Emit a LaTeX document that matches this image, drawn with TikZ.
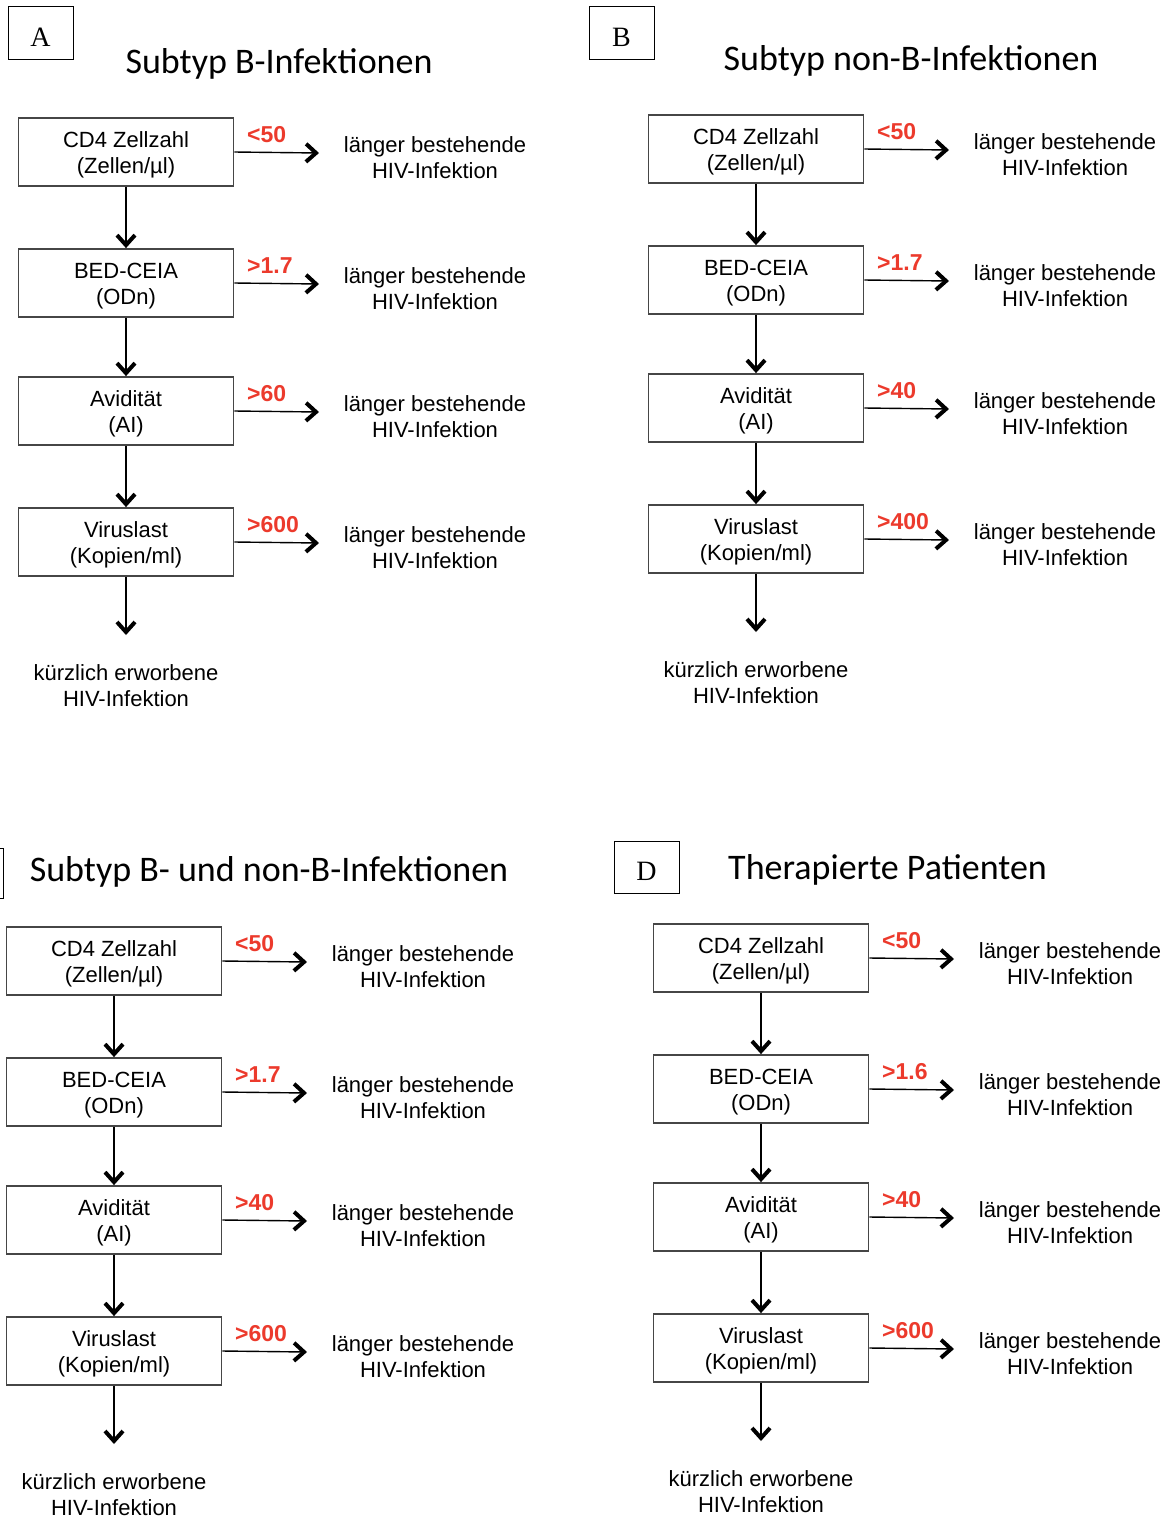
\documentclass[tikz,border=0pt]{standalone}
\usepackage{fontspec}
\setmainfont{Liberation Sans}
\newfontfamily\titlefont{Carlito}
\newfontfamily\letterfont{Liberation Serif}
\usetikzlibrary{arrows.meta}

\definecolor{cutred}{RGB}{236,58,44}
\definecolor{boxgray}{RGB}{70,70,70}

\tikzset{
  stepbox/.style={draw=boxgray,line width=1.8pt,minimum width=215pt,minimum height=68pt,
    align=center,inner sep=0pt,font=\fontsize{22}{26}\selectfont},
  outcome/.style={align=center,inner sep=0pt,font=\fontsize{22}{26}\selectfont},
  cutoff/.style={anchor=west,inner sep=0pt,text=cutred,font=\fontsize{23}{26}\selectfont\bfseries},
  flow/.style={line width=1.4pt,-{Straight Barb[length=10pt,width=18pt,line width=4pt]}},
  ptitle/.style={anchor=base,inner sep=0pt,font=\fontsize{36}{40}\selectfont\titlefont},
  letterbox/.style={draw,line width=1pt,minimum width=65pt,text height=27pt,text depth=0pt,
    font=\fontsize{28}{30}\selectfont\letterfont}
}

% #1 prefix, #2 left edge, #3 top edge, #4-#7 cut-off values
\newcommand\flowpanel[7]{%
  \node[stepbox] (#1b1) at (#2+108,#3+34) {\rule{0pt}{22pt}CD4 Zellzahl\\(Zellen/µl)};
  \node[stepbox] (#1b2) at (#2+108,#3+165) {\rule{0pt}{22pt}BED-CEIA\\(ODn)};
  \node[stepbox] (#1b3) at (#2+108,#3+293) {\rule{0pt}{22pt}Avidität\\(AI)};
  \node[stepbox] (#1b4) at (#2+108,#3+424) {\rule{0pt}{22pt}Viruslast\\(Kopien/ml)};
  \foreach \k/\y/\thr in {1/0/#4,2/131/#5,3/259/#6,4/390/#7}{
    \coordinate (#1e\k) at (#2+301,#3+\y+35);
    \draw[flow] (#1b\k.east) -- (#1e\k);
    \node[cutoff] (#1t\k) at (#2+229,#3+\y+17) {\thr};
    \node[outcome] (#1o\k) at (#2+417,#3+\y+40) {länger bestehende\\HIV-Infektion};
  }
  \foreach \k/\n in {1/2,2/3,3/4}
    \draw[flow] (#1b\k) -- (#1b\n);
  \coordinate (#1end) at (#2+108,#3+517);
  \draw[flow] (#1b4) -- (#1end);
  \node[outcome] (#1r) at (#2+108,#3+568) {kürzlich erworbene\\HIV-Infektion};
}

\begin{document}
\begin{tikzpicture}[x=1pt,y=-1pt]
  \useasboundingbox (0,0) rectangle (1170,1519);

  %--- A: Subtyp B ---
  \node[letterbox,minimum height=53pt] (labA) at (40.5,32.5) {A};
  \node[ptitle] (titA) at (279,73) {Subtyp B-Infektionen};
  \flowpanel{A}{18}{118}{<50}{>1.7}{>60}{>600}

  %--- B: Subtyp non-B ---
  \node[letterbox,minimum height=53pt] (labB) at (621.5,32.5) {B};
  \node[ptitle] (titB) at (911,70) {Subtyp non-B-Infektionen};
  \flowpanel{B}{648}{115}{<50}{>1.7}{>40}{>400}

  %--- C: beide Subtypen ---
  \node[letterbox,minimum height=50pt] (labC) at (-29.5,873) {};
  \node[ptitle] (titC) at (269,881) {Subtyp B- und non-B-Infektionen};
  \flowpanel{C}{6}{927}{<50}{>1.7}{>40}{>600}

  %--- D: therapiert ---
  \node[letterbox,minimum height=52pt] (labD) at (646.5,867) {D};
  \node[ptitle] (titD) at (887.5,879) {Therapierte Patienten};
  \flowpanel{D}{653}{924}{<50}{>1.6}{>40}{>600}
\end{tikzpicture}
\end{document}
